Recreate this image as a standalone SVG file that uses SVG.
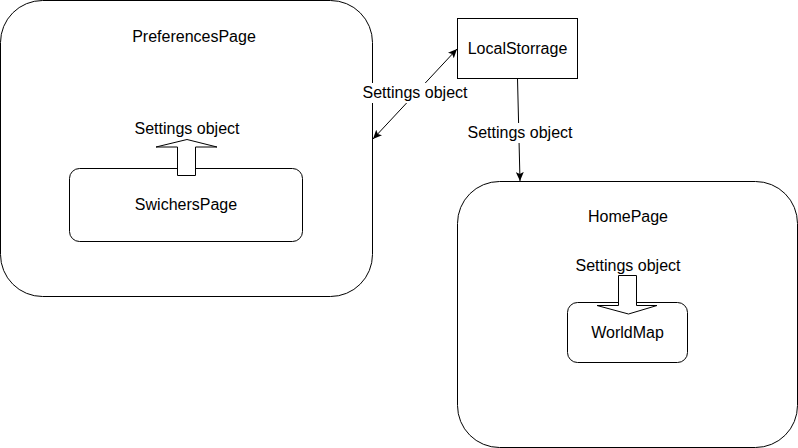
<svg xmlns="http://www.w3.org/2000/svg" width="798" height="448" viewBox="0 0 798 448">
<style>
.box{fill:#fff;stroke:#000;stroke-width:1}
.t{font-family:"Liberation Sans",Arial,Helvetica,sans-serif;font-size:16px;fill:#000;text-anchor:middle}
.edge{fill:none;stroke:#000;stroke-width:1}
.lbl{fill:#fff;stroke:none}
</style>
<defs>
<marker id="arr" markerUnits="userSpaceOnUse" markerWidth="10" markerHeight="8" refX="9" refY="4" orient="auto-start-reverse">
<path d="M0,0 L9,4 L0,8 L2,4 Z" fill="#000"/>
</marker>
</defs>
<rect width="798" height="448" fill="#fff"/>
<g id="PreferencesPage">
<rect class="box" x="0.5" y="0.5" width="372" height="296" rx="42" ry="42"/>
<text class="t" x="194" y="42">PreferencesPage</text>
</g>
<g id="SwichersPage">
<rect class="box" x="69.5" y="168.5" width="233" height="73" rx="10" ry="10"/>
<text class="t" x="186" y="210">SwichersPage</text>
</g>
<g id="LocalStorrage">
<rect class="box" x="457.5" y="18.5" width="120" height="60"/>
<text class="t" x="517.5" y="54">LocalStorrage</text>
</g>
<g id="HomePage">
<rect class="box" x="457.5" y="181.5" width="340" height="266" rx="42" ry="42"/>
<text class="t" x="628" y="222">HomePage</text>
</g>
<g id="WorldMap">
<rect class="box" x="567.5" y="302.5" width="120" height="60" rx="10" ry="10"/>
<text class="t" x="627.5" y="338">WorldMap</text>
</g>
<g id="connectors">
<line class="edge" x1="373" y1="139" x2="457" y2="49" marker-start="url(#arr)" marker-end="url(#arr)"/>
<rect class="lbl" x="361" y="83" width="108" height="20"/>
<text class="t" x="415" y="98">Settings object</text>
<line class="edge" x1="517.5" y1="78.5" x2="520" y2="181" marker-end="url(#arr)"/>
<rect class="lbl" x="466" y="123" width="108" height="20"/>
<text class="t" x="520" y="138">Settings object</text>
<polygon class="box" points="177.5,175.5 177.5,147 156,147 187,139.5 217,147 195.5,147 195.5,175.5"/>
<text class="t" x="187" y="134">Settings object</text>
<polygon class="box" points="618.5,275.5 618.5,305.5 597,305.5 628.5,314 657,305.5 636.5,305.5 636.5,275.5"/>
<text class="t" x="628" y="271">Settings object</text>
</g>
</svg>
